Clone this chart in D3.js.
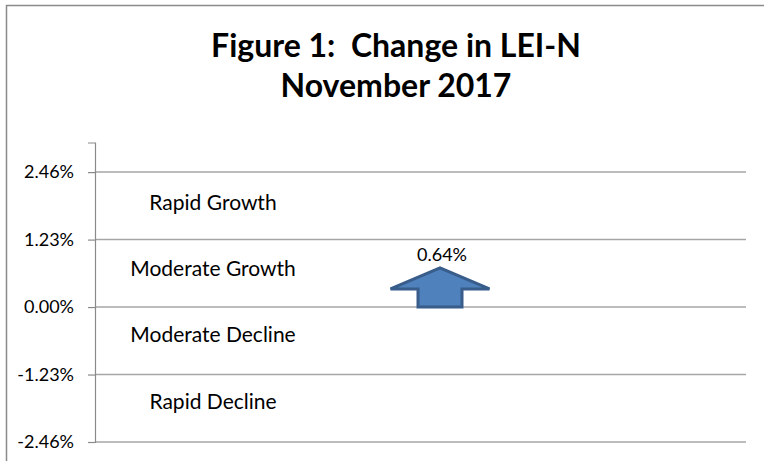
<!DOCTYPE html>
<html><head><meta charset="utf-8">
<script src="https://cdn.jsdelivr.net/npm/d3@7"></script>
<style>
html,body{margin:0;padding:0;background:#fff;}
svg{display:block;font-family:Lato,"Open Sans",sans-serif;}
text{white-space:pre;}
</style></head>
<body><svg id="c" width="764" height="461"></svg>
<script>
// ---- data ----
const titleLines = ["Figure 1:  Change in LEI-N", "November 2017"];
const tickValues = [-2.46, -1.23, 0.00, 1.23, 2.46];
const zoneLabels = ["Rapid Growth", "Moderate Growth", "Moderate Decline", "Rapid Decline"];
const zoneValues = [1.90, 0.70, -0.50, -1.72];
const changeValue = [0.64];
const changeLabel = ["0.64%"];
const yDomain = [-2.46, 3.0];

// ---- layout ----
const svg = d3.select("#c");
const W = 764, H = 461;
const plot = {left: 95, right: 746, top: 142.5, bottom: 442};

svg.append("rect").attr("x", 6.5).attr("y", 5.5).attr("width", W + 10).attr("height", H + 10)
  .attr("fill", "#fff").attr("stroke", "#8a8a8a").attr("stroke-width", 1.5);

const y = d3.scaleLinear().domain(yDomain).range([plot.bottom, plot.top]);

// title
svg.append("g").selectAll("text").data(titleLines).join("text")
  .attr("x", 396).attr("y", (d, i) => 57 + i * 39.5)
  .attr("text-anchor", "middle").attr("font-weight", "bold").attr("font-size", 32)
  .attr("xml:space", "preserve")
  .attr("fill", "#000").text(d => d);

// gridlines
svg.append("g").selectAll("line").data(tickValues).join("line")
  .attr("x1", plot.left).attr("x2", plot.right)
  .attr("y1", d => y(d)).attr("y2", d => y(d))
  .attr("stroke", "#a6a6a6").attr("stroke-width", 1.5);

// axis
const fmt = d3.formatLocale({decimal: ".", thousands: ",", grouping: [3], currency: ["", ""], minus: "-"}).format(".2f");
const axis = d3.axisLeft(y).tickValues(tickValues).tickSize(7).tickPadding(14)
  .tickFormat(d => fmt(d) + "%");
const ag = svg.append("g").attr("transform", `translate(${plot.left},0)`).call(axis);
ag.select(".domain").attr("stroke", "#8a8a8a").attr("stroke-width", 1.2);
ag.selectAll(".tick line").attr("stroke", "#8a8a8a").attr("stroke-width", 1.2);
ag.selectAll(".tick text").attr("font-family", "Lato, 'Open Sans', sans-serif")
  .attr("font-size", 18).attr("fill", "#000");

// zone labels
svg.append("g").selectAll("text").data(zoneLabels).join("text")
  .attr("x", 213).attr("y", (d, i) => y(zoneValues[i]))
  .attr("dy", "0.35em").attr("text-anchor", "middle")
  .attr("font-size", 21).attr("fill", "#000").text(d => d);

// arrow
const cx = 440, headHalf = 49.5, shaftHalf = 22, headDepth = 21;
svg.append("g").selectAll("path").data(changeValue).join("path")
  .attr("d", v => {
    const y0 = y(0), yt = y(v) - 4, yb = yt + headDepth;
    return `M${cx - shaftHalf},${y0} L${cx - shaftHalf},${yb} L${cx - headHalf},${yb} L${cx},${yt} L${cx + headHalf},${yb} L${cx + shaftHalf},${yb} L${cx + shaftHalf},${y0} Z`;
  })
  .attr("fill", "#4f81bd").attr("stroke", "#385d8a").attr("stroke-width", 3)
  .attr("stroke-linejoin", "miter");

svg.append("g").selectAll("text").data(changeLabel).join("text")
  .attr("x", 442).attr("y", (d, i) => y(changeValue[i]) - 11)
  .attr("text-anchor", "middle").attr("font-size", 18).attr("fill", "#000").text(d => d);
</script></body></html>
